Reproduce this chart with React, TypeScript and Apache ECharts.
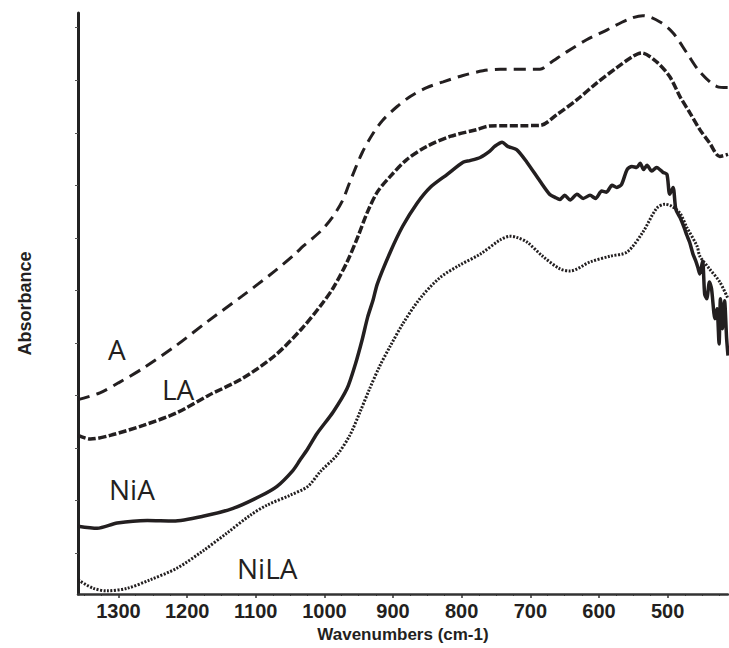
import React, { useEffect, useRef } from "react";
import * as echarts from "echarts";

// Wavenumber (cm-1) / absorbance (arbitrary units) pairs
const seriesA: [number, number][] = [
  [1359, 0.370], [1327, 0.383], [1300, 0.402], [1265, 0.429], [1217, 0.472], [1169, 0.520],
  [1120, 0.567], [1072, 0.615], [1043, 0.647], [1031, 0.662], [1006, 0.690], [989, 0.716],
  [974, 0.748], [963, 0.784], [945, 0.840], [929, 0.877], [915, 0.902], [894, 0.928],
  [875, 0.947], [851, 0.964], [827, 0.975], [798, 0.987], [769, 0.996], [744, 0.999],
  [686, 0.999], [671, 1.011], [647, 1.032], [618, 1.055], [588, 1.074], [559, 1.093],
  [536, 1.101], [511, 1.089], [492, 1.068], [472, 1.030], [453, 0.994], [428, 0.966],
  [412, 0.964],
];

const seriesLA: [number, number][] = [
  [1359, 0.302], [1341, 0.295], [1312, 0.302], [1264, 0.321], [1215, 0.345], [1169, 0.378],
  [1120, 0.410], [1072, 0.454], [1033, 0.505], [1006, 0.548], [987, 0.583], [967, 0.632],
  [951, 0.681], [938, 0.725], [923, 0.765], [904, 0.795], [880, 0.827], [851, 0.852],
  [817, 0.871], [778, 0.884], [759, 0.891], [686, 0.892], [661, 0.913], [632, 0.941],
  [603, 0.973], [574, 1.002], [551, 1.023], [538, 1.030], [516, 1.013], [497, 0.985],
  [482, 0.947], [468, 0.917], [453, 0.884], [439, 0.859], [424, 0.833], [412, 0.837],
];

const seriesNiA: [number, number][] = [
  [1359, 0.129], [1331, 0.125], [1302, 0.135], [1258, 0.140], [1220, 0.139], [1177, 0.148],
  [1133, 0.163], [1094, 0.186], [1069, 0.205], [1046, 0.235], [1036, 0.254], [1024, 0.277],
  [1011, 0.305], [987, 0.347], [967, 0.391], [955, 0.437], [945, 0.484], [937, 0.527],
  [929, 0.560], [923, 0.590], [904, 0.651], [886, 0.700], [865, 0.744], [846, 0.774],
  [821, 0.799], [798, 0.822], [788, 0.825], [773, 0.831], [759, 0.843], [752, 0.852],
  [741, 0.860], [733, 0.852], [720, 0.846], [705, 0.822], [686, 0.786], [672, 0.761],
  [664, 0.755], [657, 0.751], [650, 0.759], [642, 0.750], [632, 0.761], [623, 0.753],
  [613, 0.759], [605, 0.753], [596, 0.767], [589, 0.765], [581, 0.778], [574, 0.774],
  [567, 0.780], [559, 0.808], [552, 0.814], [545, 0.812], [540, 0.820], [535, 0.808],
  [530, 0.816], [523, 0.805], [516, 0.812], [507, 0.803], [501, 0.799], [497, 0.761],
  [492, 0.774], [488, 0.732], [482, 0.717], [476, 0.698], [472, 0.683], [468, 0.670],
  [463, 0.647], [459, 0.634], [456, 0.622], [453, 0.609], [449, 0.634], [446, 0.571],
  [443, 0.562], [439, 0.594], [436, 0.581], [431, 0.524], [428, 0.543], [425, 0.476],
  [423, 0.562], [420, 0.505], [417, 0.558], [414, 0.486], [412, 0.454],
];

const seriesNiLA: [number, number][] = [
  [1359, 0.027], [1337, 0.011], [1317, 0.006], [1287, 0.011], [1254, 0.027], [1215, 0.049],
  [1177, 0.082], [1142, 0.116], [1108, 0.150], [1084, 0.169], [1050, 0.188], [1024, 0.205],
  [1006, 0.233], [982, 0.264], [963, 0.302], [948, 0.347], [934, 0.391], [919, 0.435],
  [904, 0.472], [886, 0.514], [861, 0.562], [832, 0.602], [803, 0.626], [773, 0.647],
  [744, 0.674], [730, 0.681], [720, 0.679], [705, 0.670], [682, 0.643], [657, 0.619],
  [642, 0.615], [613, 0.632], [584, 0.643], [559, 0.651], [536, 0.689], [516, 0.734],
  [504, 0.742], [494, 0.738], [482, 0.725], [472, 0.698], [457, 0.662], [453, 0.643],
  [439, 0.619], [424, 0.594], [412, 0.562],
];

const majorTicks = [1300, 1200, 1100, 1000, 900, 800, 700, 600, 500];
const minorTicks = [
  1350, 1325, 1275, 1250, 1225, 1175, 1150, 1125, 1075, 1050, 1025, 975, 950, 925,
  875, 850, 825, 775, 750, 725, 675, 650, 625, 575, 550, 525, 475, 450, 425,
];
const yTicks = [0.078, 0.178, 0.278, 0.378, 0.478, 0.578, 0.678, 0.778, 0.878, 0.978, 1.078];

const INK = "#231f20";

export default function App() {
  const ref = useRef<HTMLDivElement>(null);
  useEffect(() => {
    if (!ref.current) return;
    const chart = echarts.init(ref.current, null, { renderer: "svg" });
    const xBase = {
      type: "value" as const,
      inverse: true,
      min: 412,
      max: 1359,
      position: "bottom" as const,
      splitLine: { show: false },
    };
    chart.setOption({
      animation: false,
      backgroundColor: "#ffffff",
      grid: { left: 78, right: 1, top: 13, bottom: 52, containLabel: false },
      xAxis: [
        {
          ...xBase,
          name: "Wavenumbers (cm-1)",
          nameLocation: "middle",
          nameGap: 32,
          nameTextStyle: { fontFamily: "Liberation Sans", fontWeight: "bold", fontSize: 17, color: INK },
          axisLine: { show: true, lineStyle: { color: "#333", width: 2.5 } },
          axisTick: { show: true, customValues: majorTicks, length: 4, lineStyle: { color: "#333", width: 1.5 } },
          axisLabel: {
            show: true,
            customValues: majorTicks,
            formatter: (v: number) => String(v),
            fontFamily: "Liberation Sans",
            fontWeight: "bold",
            fontSize: 20,
            color: INK,
            margin: 7,
          },
        },
        {
          ...xBase,
          axisLine: { show: false },
          axisTick: { show: true, customValues: minorTicks, length: 2, lineStyle: { color: "#333", width: 1 } },
          axisLabel: { show: false },
        },
      ],
      yAxis: {
        type: "value",
        min: 0,
        max: 1.106,
        name: "Absorbance",
        nameLocation: "middle",
        nameGap: 44,
        nameRotate: 90,
        nameTextStyle: { fontFamily: "Liberation Sans", fontWeight: "bold", fontSize: 18, color: INK },
        axisLine: { show: true, lineStyle: { color: "#222", width: 3 } },
        axisTick: { show: true, customValues: yTicks, length: 3, lineStyle: { color: "#555", width: 1 } },
        axisLabel: { show: false },
        splitLine: { show: false },
      },
      series: [
        {
          name: "A",
          type: "line",
          data: seriesA,
          showSymbol: false,
          smooth: 0.3,
          lineStyle: { color: INK, width: 3, type: [12, 7] },
        },
        {
          name: "LA",
          type: "line",
          data: seriesLA,
          showSymbol: false,
          smooth: 0.3,
          lineStyle: { color: INK, width: 3.5, type: [8, 2.5] },
        },
        {
          name: "NiA",
          type: "line",
          data: seriesNiA,
          showSymbol: false,
          smooth: 0.25,
          lineStyle: { color: INK, width: 3.5 },
        },
        {
          name: "NiLA",
          type: "line",
          data: seriesNiLA,
          showSymbol: false,
          smooth: 0.3,
          lineStyle: { color: INK, width: 3, type: [2, 1.5] },
        },
      ],
      graphic: [
        { type: "text", left: 108, top: 335, style: { text: "A", fontFamily: "Open Sans", fontSize: 28, fill: INK } },
        { type: "text", left: 162, top: 375, style: { text: "LA", fontFamily: "Open Sans", fontSize: 28, fill: INK } },
        { type: "text", left: 109, top: 475, style: { text: "NiA", fontFamily: "Open Sans", fontSize: 28, fill: INK } },
        { type: "text", left: 237, top: 554, style: { text: "NiLA", fontFamily: "Open Sans", fontSize: 28, fill: INK } },
      ],
    });
    return () => chart.dispose();
  }, []);
  return (
    <div
      ref={ref}
      style={{ position: "fixed", left: 0, top: 0, width: 729, height: 648, background: "#fff" }}
    />
  );
}
